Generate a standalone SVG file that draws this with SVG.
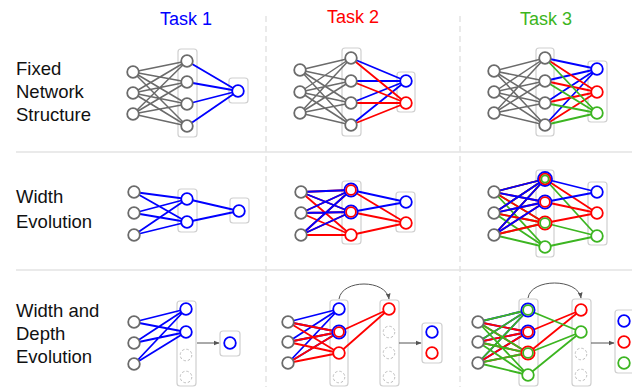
<svg xmlns="http://www.w3.org/2000/svg" width="632" height="387" viewBox="0 0 632 387">
<defs>
<style>
.t{font-family:"Liberation Sans",Arial,sans-serif;font-size:18.5px;fill:#111}
.h{font-family:"Liberation Sans",Arial,sans-serif;font-size:18px;text-anchor:middle}
.sep{stroke:#e4e4e4;stroke-width:1.5;fill:none}
.box{fill:none;stroke:#cfcfcf;stroke-width:1.2}
.e{fill:none;stroke-width:1.8}
.eg{stroke:#6b6b6b;stroke-width:1.5}
.eb{stroke:#0000ff}
.er{stroke:#ff0000}
.egr{stroke:#3cb521}
circle{fill:#fff;stroke-width:1.8}
.gy{stroke:#6b6b6b}
.b{stroke:#0000ff}
.r{stroke:#ff0000}
.gr{stroke:#3cb521}
.d{fill:#fff;stroke:#bdbdbd;stroke-width:1;stroke-dasharray:2.5 2}
.i{fill:none}
.ar{fill:none;stroke:#555;stroke-width:1}
</style>
<marker id="ah" viewBox="0 0 10 10" refX="9" refY="5" markerWidth="6" markerHeight="6" orient="auto"><path d="M0,1L10,5L0,9z" fill="#555"/></marker>
</defs>
<rect width="632" height="387" fill="#fff"/>

<g id="grid">
<path class="sep" stroke-dasharray="6 4" d="M266,16V387M460,16V387"/>
<path class="sep" d="M16,152H632M16,270H632"/>
</g>

<g id="headers">
<text class="h" x="186" y="25" fill="#0000ff">Task 1</text>
<text class="h" x="353" y="23" fill="#ff0000">Task 2</text>
<text class="h" x="546" y="25" fill="#3cb521">Task 3</text>
</g>
<g id="rowlabels">
<text class="t" x="16" y="75">Fixed</text>
<text class="t" x="16" y="98">Network</text>
<text class="t" x="16" y="121">Structure</text>
<text class="t" x="16" y="203">Width</text>
<text class="t" x="16" y="228">Evolution</text>
<text class="t" x="16" y="317">Width and</text>
<text class="t" x="16" y="340">Depth</text>
<text class="t" x="16" y="363">Evolution</text>
</g>

<g id="boxes">
<rect class="box" x="178" y="49" width="19" height="88" rx="3"/>
<rect class="box" x="229" y="78" width="19" height="25" rx="3"/>
<rect class="box" x="342" y="48" width="19" height="88" rx="3"/>
<rect class="box" x="397" y="72" width="18" height="40" rx="3"/>
<rect class="box" x="536" y="48" width="18" height="88" rx="3"/>
<rect class="box" x="588" y="61" width="19" height="61" rx="3"/>
<rect class="box" x="178" y="189" width="19" height="43" rx="3"/>
<rect class="box" x="230" y="198" width="19" height="25" rx="3"/>
<rect class="box" x="342" y="181" width="19" height="63" rx="3"/>
<rect class="box" x="396" y="192" width="19" height="40" rx="3"/>
<rect class="box" x="536" y="170" width="18" height="87" rx="3"/>
<rect class="box" x="588" y="182" width="19" height="63" rx="3"/>
<rect class="box" x="177" y="301" width="19" height="85" rx="3"/>
<rect class="box" x="220" y="331" width="20" height="25" rx="3"/>
<rect class="box" x="330" y="300" width="18" height="86" rx="3"/>
<rect class="box" x="380" y="300" width="19" height="86" rx="3"/>
<rect class="box" x="422" y="323" width="20" height="40" rx="3"/>
<rect class="box" x="519" y="299" width="19" height="87" rx="3"/>
<rect class="box" x="572" y="299" width="19" height="87" rx="3"/>
<rect class="box" x="615" y="310" width="20" height="63" rx="3"/>
</g>

<g id="connectors">
<!-- row 1 task 1 -->
<path class="e eg" d="M133,72L187,61M133,72L187,82M133,72L187,104M133,72L187,126M133,93L187,61M133,93L187,82M133,93L187,104M133,93L187,126M133,114L187,61M133,114L187,82M133,114L187,104M133,114L187,126"/>
<path class="e eb" d="M187,61L238,91M187,82L238,91M187,104L238,91M187,126L238,91"/>
<!-- row 1 task 2 -->
<path class="e eg" d="M300,70L351,58M300,70L351,81M300,70L351,103M300,70L351,125M300,92L351,58M300,92L351,81M300,92L351,103M300,92L351,125M300,113L351,58M300,113L351,81M300,113L351,103M300,113L351,125"/>
<path class="e eb" d="M351,58L406,81M351,81L406,81M351,103L406,81M351,125L406,81"/>
<path class="e er" d="M351,58L406,103M351,81L406,103M351,103L406,103M351,125L406,103"/>
<!-- row 1 task 3 -->
<path class="e eg" d="M494,71L545,58M494,71L545,81M494,71L545,103M494,71L545,125M494,92L545,58M494,92L545,81M494,92L545,103M494,92L545,125M494,113L545,58M494,113L545,81M494,113L545,103M494,113L545,125"/>
<path class="e eb" d="M545,58L597,69M545,81L597,69M545,103L597,69M545,125L597,69"/>
<path class="e er" d="M545,58L597,92M545,81L597,92M545,103L597,92M545,125L597,92"/>
<path class="e egr" d="M545,58L597,113M545,81L597,113M545,103L597,113M545,125L597,113"/>
<!-- row 2 task 1 -->
<path class="e eb" d="M134,192L187,199M134,192L187,222M134,213L187,199M134,213L187,222M134,235L187,199M134,235L187,222M187,199L239,211M187,222L239,211"/>
<!-- row 2 task 2 -->
<path class="e er" d="M301,192L351,190M301,192L351,212M301,192L351,235M301,213L351,190M301,213L351,212M301,213L351,235M301,235L351,190M301,235L351,212M301,235L351,235M351,190L406,223M351,212L406,223M351,235L406,223"/>
<path class="e eb" d="M301,192L351,190M301,192L351,212M301,213L351,190M301,213L351,212M301,235L351,190M301,235L351,212M351,190L406,202M351,212L406,202"/>
<!-- row 2 task 3 -->
<path class="e egr" d="M494,192L545,179M494,192L545,223M494,192L545,247M494,213L545,179M494,213L545,223M494,213L545,247M494,235L545,179M494,235L545,223M494,235L545,247M545,179L597,236M545,223L597,236M545,247L597,236"/>
<path class="e er" d="M494,192L545,179M494,192L545,202M494,192L545,223M494,213L545,179M494,213L545,202M494,213L545,223M494,235L545,179M494,235L545,202M494,235L545,223M545,179L597,213M545,202L597,213M545,223L597,213"/>
<path class="e eb" d="M494,192L545,179M494,192L545,202M494,213L545,179M494,213L545,202M494,235L545,179M494,235L545,202M545,179L597,192M545,202L597,192"/>
<!-- row 3 task 1 -->
<path class="e eb" d="M134,322L186,309M134,322L186,332M134,343L186,309M134,343L186,332M134,364L186,309M134,364L186,332"/>
<path class="ar" marker-end="url(#ah)" d="M197,343H219"/>
<!-- row 3 task 2 -->
<path class="e eb" d="M288,322L339,309M288,322L339,332M288,342L339,309M288,342L339,332M288,363L339,309M288,363L339,332"/>
<path class="e er" d="M288,322L339,332M288,322L339,353M288,342L339,332M288,342L339,353M288,363L339,332M288,363L339,353M339,332L389,309M339,353L389,309"/>
<path class="ar" marker-end="url(#ah)" d="M399,343H421"/>
<path class="ar" marker-end="url(#ah)" d="M339,299C342,279 386,279 389,299"/>
<!-- row 3 task 3 -->
<path class="e eb" d="M478,322L528,310M478,322L528,332M478,342L528,310M478,342L528,332M478,363L528,310M478,363L528,332"/>
<path class="e er" d="M478,322L528,332M478,322L528,353M478,342L528,332M478,342L528,353M478,363L528,332M478,363L528,353M528,332L581,310M528,353L581,310"/>
<path class="e egr" d="M478,322L528,310M478,322L528,353M478,322L528,375M478,342L528,310M478,342L528,353M478,342L528,375M478,363L528,310M478,363L528,353M478,363L528,375M528,310L581,332M528,353L581,332M528,375L581,332"/>
<path class="ar" marker-end="url(#ah)" d="M591,343H614"/>
<path class="ar" marker-end="url(#ah)" d="M528,298C531,278 578,278 581,298"/>
</g>

<g id="nodes">
<!-- row 1 task 1 -->
<g id="r1t1-i1"><circle class="gy" cx="133" cy="72" r="5.8"/></g>
<g id="r1t1-i2"><circle class="gy" cx="133" cy="93" r="5.8"/></g>
<g id="r1t1-i3"><circle class="gy" cx="133" cy="114" r="5.8"/></g>
<g id="r1t1-h1"><circle class="gy" cx="187" cy="61" r="5.8"/></g>
<g id="r1t1-h2"><circle class="gy" cx="187" cy="82" r="5.8"/></g>
<g id="r1t1-h3"><circle class="gy" cx="187" cy="104" r="5.8"/></g>
<g id="r1t1-h4"><circle class="gy" cx="187" cy="126" r="5.8"/></g>
<g id="r1t1-o1"><circle class="b" cx="238" cy="91" r="5.8"/></g>
<!-- row 1 task 2 -->
<g id="r1t2-i1"><circle class="gy" cx="300" cy="70" r="5.8"/></g>
<g id="r1t2-i2"><circle class="gy" cx="300" cy="92" r="5.8"/></g>
<g id="r1t2-i3"><circle class="gy" cx="300" cy="113" r="5.8"/></g>
<g id="r1t2-h1"><circle class="gy" cx="351" cy="58" r="5.8"/></g>
<g id="r1t2-h2"><circle class="gy" cx="351" cy="81" r="5.8"/></g>
<g id="r1t2-h3"><circle class="gy" cx="351" cy="103" r="5.8"/></g>
<g id="r1t2-h4"><circle class="gy" cx="351" cy="125" r="5.8"/></g>
<g id="r1t2-o1"><circle class="b" cx="406" cy="81" r="5.8"/></g>
<g id="r1t2-o2"><circle class="r" cx="406" cy="103" r="5.8"/></g>
<!-- row 1 task 3 -->
<g id="r1t3-i1"><circle class="gy" cx="494" cy="71" r="5.8"/></g>
<g id="r1t3-i2"><circle class="gy" cx="494" cy="92" r="5.8"/></g>
<g id="r1t3-i3"><circle class="gy" cx="494" cy="113" r="5.8"/></g>
<g id="r1t3-h1"><circle class="gy" cx="545" cy="58" r="5.8"/></g>
<g id="r1t3-h2"><circle class="gy" cx="545" cy="81" r="5.8"/></g>
<g id="r1t3-h3"><circle class="gy" cx="545" cy="103" r="5.8"/></g>
<g id="r1t3-h4"><circle class="gy" cx="545" cy="125" r="5.8"/></g>
<g id="r1t3-o1"><circle class="b" cx="597" cy="69" r="5.8"/></g>
<g id="r1t3-o2"><circle class="r" cx="597" cy="92" r="5.8"/></g>
<g id="r1t3-o3"><circle class="gr" cx="597" cy="113" r="5.8"/></g>
<!-- row 2 task 1 -->
<g id="r2t1-i1"><circle class="gy" cx="134" cy="192" r="5.8"/></g>
<g id="r2t1-i2"><circle class="gy" cx="134" cy="213" r="5.8"/></g>
<g id="r2t1-i3"><circle class="gy" cx="134" cy="235" r="5.8"/></g>
<g id="r2t1-h1"><circle class="b" cx="187" cy="199" r="5.8"/></g>
<g id="r2t1-h2"><circle class="b" cx="187" cy="222" r="5.8"/></g>
<g id="r2t1-o1"><circle class="b" cx="239" cy="211" r="5.8"/></g>
<!-- row 2 task 2 -->
<g id="r2t2-i1"><circle class="gy" cx="301" cy="192" r="5.8"/></g>
<g id="r2t2-i2"><circle class="gy" cx="301" cy="213" r="5.8"/></g>
<g id="r2t2-i3"><circle class="gy" cx="301" cy="235" r="5.8"/></g>
<g id="r2t2-h1"><circle class="b" cx="351" cy="190" r="6.6"/><circle class="r i" cx="351" cy="190" r="4.9"/></g>
<g id="r2t2-h2"><circle class="b" cx="351" cy="212" r="6.6"/><circle class="r i" cx="351" cy="212" r="4.9"/></g>
<g id="r2t2-h3"><circle class="r" cx="351" cy="235" r="5.8"/></g>
<g id="r2t2-o1"><circle class="b" cx="406" cy="202" r="5.8"/></g>
<g id="r2t2-o2"><circle class="r" cx="406" cy="223" r="5.8"/></g>
<!-- row 2 task 3 -->
<g id="r2t3-i1"><circle class="gy" cx="494" cy="192" r="5.8"/></g>
<g id="r2t3-i2"><circle class="gy" cx="494" cy="213" r="5.8"/></g>
<g id="r2t3-i3"><circle class="gy" cx="494" cy="235" r="5.8"/></g>
<g id="r2t3-h1"><circle class="b" cx="545" cy="179" r="7"/><circle class="r i" cx="545" cy="179" r="5.3"/><circle class="gr i" cx="545" cy="179" r="3.6"/></g>
<g id="r2t3-h2"><circle class="b" cx="545" cy="202" r="6.6"/><circle class="r i" cx="545" cy="202" r="4.9"/></g>
<g id="r2t3-h3"><circle class="r" cx="545" cy="223" r="6.6"/><circle class="gr i" cx="545" cy="223" r="4.9"/></g>
<g id="r2t3-h4"><circle class="gr" cx="545" cy="247" r="5.8"/></g>
<g id="r2t3-o1"><circle class="b" cx="597" cy="192" r="5.8"/></g>
<g id="r2t3-o2"><circle class="r" cx="597" cy="213" r="5.8"/></g>
<g id="r2t3-o3"><circle class="gr" cx="597" cy="236" r="5.8"/></g>
<!-- row 3 task 1 -->
<g id="r3t1-i1"><circle class="gy" cx="134" cy="322" r="5.8"/></g>
<g id="r3t1-i2"><circle class="gy" cx="134" cy="343" r="5.8"/></g>
<g id="r3t1-i3"><circle class="gy" cx="134" cy="364" r="5.8"/></g>
<g id="r3t1-h1"><circle class="b" cx="186" cy="309" r="5.8"/></g>
<g id="r3t1-h2"><circle class="b" cx="186" cy="332" r="5.8"/></g>
<g id="r3t1-h3"><circle class="d" cx="186" cy="355" r="5.8"/></g>
<g id="r3t1-h4"><circle class="d" cx="186" cy="377" r="5.8"/></g>
<g id="r3t1-o1"><circle class="b" cx="230" cy="343" r="5.8"/></g>
<!-- row 3 task 2 -->
<g id="r3t2-i1"><circle class="gy" cx="288" cy="322" r="5.8"/></g>
<g id="r3t2-i2"><circle class="gy" cx="288" cy="342" r="5.8"/></g>
<g id="r3t2-i3"><circle class="gy" cx="288" cy="363" r="5.8"/></g>
<g id="r3t2-h1"><circle class="b" cx="339" cy="309" r="5.8"/></g>
<g id="r3t2-h2"><circle class="b" cx="339" cy="332" r="6.6"/><circle class="r i" cx="339" cy="332" r="4.9"/></g>
<g id="r3t2-h3"><circle class="r" cx="339" cy="353" r="5.8"/></g>
<g id="r3t2-h4"><circle class="d" cx="339" cy="377" r="5.8"/></g>
<g id="r3t2-l1"><circle class="r" cx="389" cy="309" r="5.8"/></g>
<g id="r3t2-l2"><circle class="d" cx="389" cy="332" r="5.8"/></g>
<g id="r3t2-l3"><circle class="d" cx="389" cy="353" r="5.8"/></g>
<g id="r3t2-l4"><circle class="d" cx="389" cy="377" r="5.8"/></g>
<g id="r3t2-o1"><circle class="b" cx="432" cy="332" r="5.8"/></g>
<g id="r3t2-o2"><circle class="r" cx="432" cy="353" r="5.8"/></g>
<!-- row 3 task 3 -->
<g id="r3t3-i1"><circle class="gy" cx="478" cy="322" r="5.8"/></g>
<g id="r3t3-i2"><circle class="gy" cx="478" cy="342" r="5.8"/></g>
<g id="r3t3-i3"><circle class="gy" cx="478" cy="363" r="5.8"/></g>
<g id="r3t3-h1"><circle class="b" cx="528" cy="310" r="6.6"/><circle class="gr i" cx="528" cy="310" r="4.9"/></g>
<g id="r3t3-h2"><circle class="b" cx="528" cy="332" r="6.6"/><circle class="r i" cx="528" cy="332" r="4.9"/></g>
<g id="r3t3-h3"><circle class="r" cx="528" cy="353" r="6.6"/><circle class="gr i" cx="528" cy="353" r="4.9"/></g>
<g id="r3t3-h4"><circle class="gr" cx="528" cy="375" r="5.8"/></g>
<g id="r3t3-l1"><circle class="r" cx="581" cy="310" r="5.8"/></g>
<g id="r3t3-l2"><circle class="gr" cx="581" cy="332" r="5.8"/></g>
<g id="r3t3-l3"><circle class="d" cx="581" cy="354" r="5.8"/></g>
<g id="r3t3-l4"><circle class="d" cx="581" cy="375" r="5.8"/></g>
<g id="r3t3-o1"><circle class="b" cx="624" cy="321" r="5.8"/></g>
<g id="r3t3-o2"><circle class="r" cx="624" cy="342" r="5.8"/></g>
<g id="r3t3-o3"><circle class="gr" cx="624" cy="363" r="5.8"/></g>
</g>
</svg>
